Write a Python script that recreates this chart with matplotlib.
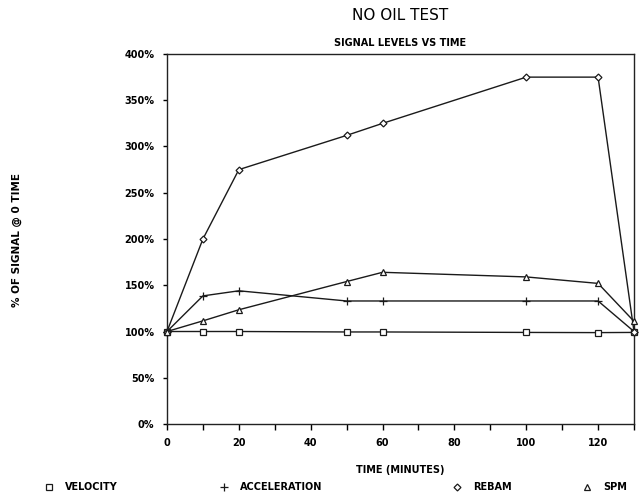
import numpy as np
import matplotlib
matplotlib.use('Agg')
import matplotlib.pyplot as plt
from matplotlib.lines import Line2D

# time in minutes
minutes = [0, 10, 20, 50, 60, 100, 120, 130]

# signal levels as % of the value at time 0
velocity     = [100, 100, 100, 99.5, 99.5, 99, 98.8, 99]
acceleration = [100, 138.5, 144, 133, 133, 133, 133, 100]
rebam        = [100, 200, 275, 312, 325, 375, 375, 100]
spm          = [100, 111.5, 123.5, 154, 164, 159, 152, 111]

series_names = ['VELOCITY', 'ACCELERATION', 'REBAM', 'SPM']
series_data  = [velocity, acceleration, rebam, spm]

xticks       = [0, 20, 40, 60, 80, 100, 120]
yticks       = [0, 50, 100, 150, 200, 250, 300, 350, 400]

markers = ['s', '+', 'D', '^']
msizes  = [4.2, 5.5, 3.5, 4.5]

W, H = 641, 495
fig = plt.figure(figsize=(W/100, H/100), dpi=100)
ax = fig.add_axes([167/W, 1-424/H, (634-167)/W, (424-54)/H])

lines = []
for name, vals, mk, ms in zip(series_names, series_data, markers, msizes):
    ln, = ax.plot(minutes, vals, color='#1a1a1a', lw=1.0, marker=mk, ms=ms,
                  mfc='white' if mk != '+' else 'none', mec='#1a1a1a', mew=0.9,
                  clip_on=False, zorder=3)
    lines.append(ln)

ax.set_xlim(0, 130)
ax.set_ylim(0, 400)
ax.set_xticks(xticks)
ax.set_xticks(np.arange(10, 131, 20), minor=True)
ax.set_xticklabels([str(t) for t in xticks], fontsize=7, fontweight='bold')
ax.set_yticks(yticks)
ax.set_yticklabels(['%d%%' % t for t in yticks], fontsize=7, fontweight='bold')

ax.tick_params(axis='x', which='both', direction='out', length=4, width=1, pad=6)
ax.tick_params(axis='y', direction='out', length=3, width=1, pad=6)
for sp in ax.spines.values():
    sp.set_linewidth(1.0)
    sp.set_color('#222222')

# titles
fig.text(400/W, 1-16/H, 'NO OIL TEST', ha='center', va='center', fontsize=11)
fig.text(400/W, 1-43/H, 'SIGNAL LEVELS VS TIME', ha='center', va='center',
         fontsize=7, fontweight='bold')
fig.text(400/W, 1-470/H, 'TIME (MINUTES)', ha='center', va='center',
         fontsize=7, fontweight='bold')
fig.text(17/W, 1-240/H, '% OF SIGNAL @ 0 TIME', ha='center', va='center',
         rotation=90, fontsize=7.5, fontweight='bold')

# legend row along the bottom, one entry per series
legend_x = [49, 224, 457, 587]
for name, mk, ms, xpos in zip(series_names, markers, msizes, legend_x):
    proxy = Line2D([], [], color='#1a1a1a', marker=mk, ms=ms, linestyle='none',
                   mfc='white' if mk != '+' else 'none', mec='#1a1a1a', mew=0.9)
    fig.legend(handles=[proxy], labels=[name], loc='center left',
               bbox_to_anchor=((xpos-5)/W, 1-487/H), frameon=False,
               borderpad=0, borderaxespad=0, handlelength=1.0,
               handletextpad=1.2, prop={'size': 7, 'weight': 'bold'})

fig.savefig('out.png', dpi=100)
